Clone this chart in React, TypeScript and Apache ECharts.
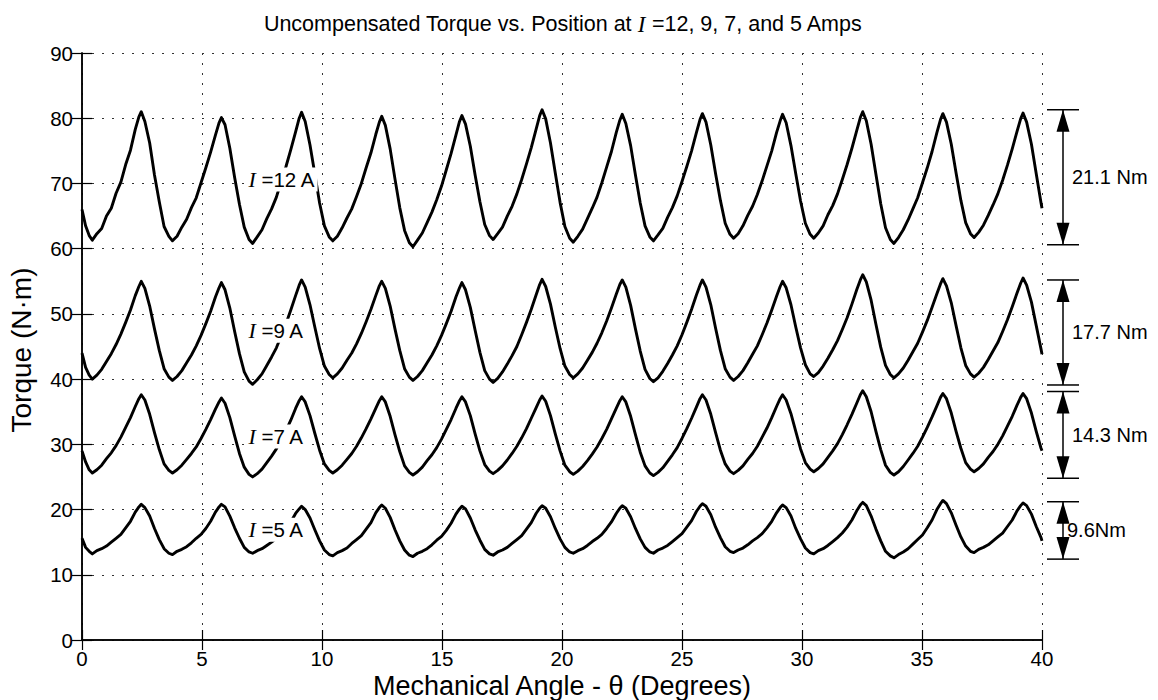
import React, { useEffect, useRef } from "react";
import * as echarts from "echarts";

// Mechanical angle samples (degrees)
const ANGLES = [
  0, 0.15, 0.3,
  0.43, 0.62, 0.82, 1.02, 1.22, 1.42, 1.62, 1.82, 2.02, 2.22, 2.37, 2.47, 2.62, 2.82, 3.02, 3.22, 3.42, 3.62,
  3.77, 3.96, 4.16, 4.36, 4.56, 4.76, 4.96, 5.16, 5.36, 5.56, 5.71, 5.81, 5.96, 6.16, 6.36, 6.56, 6.76, 6.96,
  7.11, 7.3, 7.5, 7.7, 7.9, 8.1, 8.3, 8.5, 8.7, 8.9, 9.05, 9.15, 9.3, 9.5, 9.7, 9.9, 10.1, 10.3,
  10.45, 10.64, 10.84, 11.04, 11.24, 11.44, 11.64, 11.84, 12.04, 12.24, 12.39, 12.49, 12.64, 12.84, 13.04, 13.24, 13.44, 13.64,
  13.79, 13.98, 14.18, 14.38, 14.58, 14.78, 14.98, 15.18, 15.38, 15.58, 15.73, 15.83, 15.98, 16.18, 16.38, 16.58, 16.78, 16.98,
  17.13, 17.32, 17.52, 17.72, 17.92, 18.12, 18.32, 18.52, 18.72, 18.92, 19.07, 19.17, 19.32, 19.52, 19.72, 19.92, 20.12, 20.32,
  20.47, 20.66, 20.86, 21.06, 21.26, 21.46, 21.66, 21.86, 22.06, 22.26, 22.41, 22.51, 22.66, 22.86, 23.06, 23.26, 23.46, 23.66,
  23.81, 24.0, 24.2, 24.4, 24.6, 24.8, 25.0, 25.2, 25.4, 25.6, 25.75, 25.85, 26.0, 26.2, 26.4, 26.6, 26.8, 27.0,
  27.15, 27.34, 27.54, 27.74, 27.94, 28.14, 28.34, 28.54, 28.74, 28.94, 29.09, 29.19, 29.34, 29.54, 29.74, 29.94, 30.14, 30.34,
  30.49, 30.68, 30.88, 31.08, 31.28, 31.48, 31.68, 31.88, 32.08, 32.28, 32.43, 32.53, 32.68, 32.88, 33.08, 33.28, 33.48, 33.68,
  33.83, 34.02, 34.22, 34.42, 34.62, 34.82, 35.02, 35.22, 35.42, 35.62, 35.77, 35.87, 36.02, 36.22, 36.42, 36.62, 36.82, 37.02,
  37.17, 37.36, 37.56, 37.76, 37.96, 38.16, 38.36, 38.56, 38.76, 38.96, 39.11, 39.21, 39.36, 39.56, 39.76, 39.96, 40.0,
];

// Torque (N·m) at I = 12 A
const TORQUE_12A = [
  66.0, 63.5, 62.0,
  61.3, 62.3, 63.1, 65.0, 66.2, 68.5, 70.2, 72.9, 75.1, 78.3, 80.2, 81.0, 79.5, 76.2, 71.3, 67.2, 63.4, 61.9,
  61.2, 61.9, 63.3, 64.5, 66.3, 67.8, 70.1, 72.4, 74.8, 77.4, 79.3, 80.1, 79.0, 75.4, 70.9, 66.8, 63.3, 61.4,
  60.8, 61.8, 62.9, 64.6, 66.1, 67.9, 70.3, 72.6, 75.2, 77.9, 80.0, 80.9, 79.5, 75.9, 71.5, 67.0, 63.5, 61.8,
  61.2, 61.9, 63.2, 64.7, 66.1, 68.0, 70.0, 72.4, 74.7, 77.5, 79.4, 80.3, 78.9, 75.3, 70.7, 66.3, 62.8, 60.9,
  60.3, 61.3, 62.4, 64.0, 65.6, 67.5, 69.6, 72.1, 74.6, 77.4, 79.5, 80.4, 79.1, 75.7, 71.3, 67.2, 63.7, 62.0,
  61.4, 62.3, 63.3, 65.0, 66.5, 68.4, 70.6, 73.0, 75.5, 78.3, 80.4, 81.3, 79.9, 76.2, 71.6, 67.1, 63.4, 61.6,
  61.0, 61.9, 63.0, 64.6, 66.2, 67.9, 70.1, 72.5, 74.9, 77.8, 79.7, 80.6, 79.2, 75.8, 71.3, 67.0, 63.5, 61.8,
  61.2, 62.1, 63.1, 64.8, 66.3, 68.1, 70.3, 72.6, 75.0, 77.8, 79.8, 80.7, 79.4, 75.9, 71.5, 67.4, 63.9, 62.2,
  61.6, 62.3, 63.5, 65.1, 66.5, 68.3, 70.4, 72.7, 75.0, 77.8, 79.6, 80.6, 79.3, 75.8, 71.5, 67.3, 63.9, 62.2,
  61.6, 62.4, 63.5, 65.2, 66.6, 68.4, 70.6, 72.9, 75.4, 78.1, 80.1, 81.0, 79.6, 76.0, 71.4, 66.9, 63.2, 61.4,
  60.8, 61.7, 62.9, 64.4, 66.1, 67.8, 70.1, 72.4, 74.9, 77.8, 79.8, 80.7, 79.4, 76.0, 71.6, 67.4, 64.0, 62.3,
  61.7, 62.5, 63.6, 65.1, 66.7, 68.4, 70.5, 72.8, 75.3, 78.0, 79.9, 80.8, 79.4, 76.0, 71.5, 67.0, 66.2,
];

// Torque (N·m) at I = 9 A
const TORQUE_9A = [
  44.0, 41.8, 40.6,
  40.0, 40.6, 41.5, 42.7, 43.9, 45.3, 46.9, 48.7, 50.6, 52.8, 54.2, 55.0, 53.9, 51.2, 47.7, 44.4, 41.6, 40.3,
  39.8, 40.4, 41.3, 42.5, 43.7, 45.1, 46.7, 48.5, 50.4, 52.6, 54.0, 54.8, 53.7, 50.9, 47.3, 43.9, 41.1, 39.7,
  39.2, 39.9, 40.8, 42.1, 43.4, 44.8, 46.6, 48.5, 50.6, 52.8, 54.4, 55.2, 54.1, 51.4, 48.0, 44.7, 42.0, 40.7,
  40.2, 40.8, 41.7, 42.9, 44.0, 45.4, 47.0, 48.8, 50.7, 52.8, 54.3, 55.0, 53.9, 51.2, 47.7, 44.4, 41.6, 40.3,
  39.8, 40.4, 41.3, 42.5, 43.7, 45.1, 46.7, 48.5, 50.4, 52.6, 54.0, 54.8, 53.7, 51.0, 47.5, 44.1, 41.3, 40.0,
  39.5, 40.1, 41.1, 42.3, 43.6, 45.0, 46.8, 48.7, 50.7, 52.9, 54.5, 55.3, 54.2, 51.5, 48.0, 44.7, 42.0, 40.7,
  40.2, 40.8, 41.7, 42.9, 44.1, 45.5, 47.1, 48.9, 50.9, 53.0, 54.5, 55.2, 54.1, 51.3, 47.7, 44.3, 41.5, 40.1,
  39.6, 40.2, 41.2, 42.4, 43.7, 45.1, 46.8, 48.7, 50.7, 52.9, 54.4, 55.2, 54.1, 51.4, 47.8, 44.4, 41.6, 40.3,
  39.8, 40.4, 41.3, 42.5, 43.8, 45.1, 46.8, 48.6, 50.6, 52.7, 54.2, 55.0, 54.0, 51.4, 48.0, 44.8, 42.2, 40.8,
  40.4, 41.0, 42.0, 43.2, 44.5, 45.9, 47.6, 49.4, 51.5, 53.7, 55.2, 56.0, 54.9, 52.1, 48.4, 44.9, 42.1, 40.7,
  40.2, 40.8, 41.7, 42.9, 44.2, 45.5, 47.2, 49.0, 51.0, 53.1, 54.6, 55.4, 54.3, 51.7, 48.2, 44.8, 42.1, 40.8,
  40.3, 40.9, 41.8, 43.0, 44.3, 45.6, 47.3, 49.1, 51.1, 53.2, 54.7, 55.5, 54.4, 51.8, 48.2, 44.6, 43.8,
];

// Torque (N·m) at I = 7 A
const TORQUE_7A = [
  29.0, 27.3, 26.1,
  25.6, 26.1, 26.8, 27.8, 28.7, 29.8, 31.1, 32.6, 34.1, 35.8, 37.0, 37.6, 36.8, 34.6, 31.8, 29.2, 27.0, 26.0,
  25.6, 26.1, 26.8, 27.7, 28.6, 29.6, 30.9, 32.3, 33.8, 35.4, 36.5, 37.1, 36.3, 34.1, 31.3, 28.6, 26.5, 25.4,
  25.0, 25.5, 26.2, 27.2, 28.2, 29.3, 30.7, 32.1, 33.7, 35.5, 36.7, 37.3, 36.5, 34.4, 31.7, 29.1, 27.0, 26.0,
  25.6, 26.1, 26.8, 27.7, 28.6, 29.7, 31.0, 32.4, 33.9, 35.5, 36.7, 37.3, 36.5, 34.3, 31.5, 28.9, 26.7, 25.7,
  25.3, 25.8, 26.5, 27.5, 28.4, 29.5, 30.8, 32.3, 33.8, 35.5, 36.7, 37.3, 36.5, 34.4, 31.6, 29.0, 26.9, 25.9,
  25.5, 26.0, 26.7, 27.6, 28.6, 29.7, 31.0, 32.4, 34.0, 35.6, 36.8, 37.4, 36.6, 34.4, 31.6, 29.0, 26.8, 25.8,
  25.4, 25.9, 26.6, 27.5, 28.5, 29.6, 30.9, 32.3, 33.9, 35.5, 36.7, 37.3, 36.5, 34.3, 31.5, 28.8, 26.7, 25.6,
  25.2, 25.7, 26.4, 27.4, 28.4, 29.5, 30.9, 32.4, 34.0, 35.7, 37.0, 37.6, 36.8, 34.6, 31.8, 29.1, 27.0, 25.9,
  25.5, 26.0, 26.7, 27.7, 28.6, 29.7, 31.1, 32.5, 34.1, 35.8, 37.0, 37.6, 36.8, 34.7, 32.0, 29.3, 27.2, 26.2,
  25.8, 26.3, 27.0, 28.0, 29.0, 30.1, 31.5, 33.0, 34.6, 36.3, 37.6, 38.2, 37.3, 35.0, 32.0, 29.2, 26.8, 25.7,
  25.3, 25.8, 26.6, 27.6, 28.6, 29.7, 31.1, 32.6, 34.2, 35.9, 37.2, 37.8, 37.0, 34.8, 32.0, 29.4, 27.2, 26.2,
  25.8, 26.3, 27.0, 28.0, 28.9, 30.0, 31.3, 32.8, 34.3, 36.0, 37.2, 37.8, 37.0, 34.8, 32.0, 29.4, 29.0,
];

// Torque (N·m) at I = 5 A
const TORQUE_5A = [
  15.6, 14.2, 13.6,
  13.2, 13.7, 14.0, 14.4, 15.0, 15.6, 16.2, 17.2, 18.2, 19.6, 20.4, 20.8, 20.3, 19.0, 17.1, 15.4, 14.0, 13.3,
  13.1, 13.6, 13.9, 14.3, 14.9, 15.6, 16.2, 17.1, 18.2, 19.6, 20.4, 20.8, 20.4, 19.0, 17.2, 15.6, 14.2, 13.5,
  13.3, 13.7, 14.0, 14.5, 15.0, 15.6, 16.2, 17.0, 18.1, 19.4, 20.1, 20.5, 20.0, 18.7, 16.9, 15.2, 13.8, 13.1,
  12.9, 13.4, 13.7, 14.1, 14.8, 15.4, 16.0, 17.0, 18.0, 19.5, 20.3, 20.7, 20.2, 18.8, 16.9, 15.2, 13.8, 13.0,
  12.8, 13.3, 13.6, 14.0, 14.6, 15.3, 15.9, 16.8, 17.9, 19.3, 20.1, 20.5, 20.1, 18.7, 16.9, 15.3, 13.9, 13.2,
  13.0, 13.5, 13.8, 14.2, 14.8, 15.4, 16.0, 17.0, 18.0, 19.4, 20.2, 20.6, 20.2, 18.9, 17.1, 15.5, 14.2, 13.5,
  13.3, 13.7, 14.0, 14.5, 15.1, 15.6, 16.2, 17.1, 18.1, 19.4, 20.2, 20.6, 20.2, 18.9, 17.1, 15.5, 14.2, 13.5,
  13.3, 13.8, 14.1, 14.5, 15.1, 15.7, 16.3, 17.3, 18.3, 19.7, 20.5, 20.9, 20.5, 19.2, 17.3, 15.7, 14.3, 13.6,
  13.4, 13.8, 14.1, 14.6, 15.2, 15.7, 16.3, 17.2, 18.2, 19.5, 20.3, 20.7, 20.3, 19.0, 17.1, 15.5, 14.1, 13.4,
  13.2, 13.7, 14.0, 14.5, 15.1, 15.7, 16.4, 17.3, 18.4, 19.8, 20.7, 21.1, 20.6, 19.0, 17.0, 15.2, 13.6, 12.9,
  12.6, 13.1, 13.5, 14.0, 14.7, 15.4, 16.1, 17.2, 18.4, 20.0, 20.9, 21.4, 20.9, 19.5, 17.6, 15.8, 14.4, 13.6,
  13.4, 13.9, 14.2, 14.6, 15.2, 15.8, 16.4, 17.4, 18.4, 19.8, 20.6, 21.0, 20.6, 19.3, 17.4, 15.7, 15.2,
];

// Curve labels: current, anchor angle and torque
const LABEL_AMPS = ["12", "9", "7", "5"];
const LABEL_ANGLE = [6.85, 6.85, 6.85, 6.85];
const LABEL_TORQUE = [70.6, 47.4, 31.2, 16.9];

// Ripple annotations (peak-to-peak brackets)
const RIPPLE_TOP = [81.3, 55.2, 38.1, 21.2];
const RIPPLE_BOTTOM = [60.6, 39.1, 24.8, 12.4];
const RIPPLE_TEXT = ["21.1 Nm", "17.7 Nm", "14.3 Nm", "9.6Nm"];

const SANS = "'Liberation Sans', Arial, Helvetica, sans-serif";
const SERIF = "'Liberation Serif', 'Times New Roman', serif";

export default function App() {
  const ref = useRef<HTMLDivElement>(null);
  useEffect(() => {
    const chart = echarts.init(ref.current!, null, { renderer: "svg" });
    const mk = (vals: number[]) => ANGLES.map((a, i) => [a, vals[i]]);
    const lineSeries = (name: string, vals: number[]) => ({
      type: "line",
      name,
      data: mk(vals),
      showSymbol: false,
      symbol: "none",
      silent: true,
      lineStyle: { color: "#000", width: 2.9, join: "round" },
      z: 3,
    });
    const axisLine = { show: true, lineStyle: { color: "#000", width: 1.5 } };
    const tick = { show: true, inside: true, length: 10, lineStyle: { color: "#000", width: 1.2 } };
    const grid = { show: true, lineStyle: { color: "#333", width: 1, type: [2, 8] as any } };
    chart.setOption({
      animation: false,
      backgroundColor: "#fff",
      grid: { left: 82, right: 116, top: 53, bottom: 60, containLabel: false },
      xAxis: [
        {
          type: "value",
          min: 0,
          max: 40,
          interval: 5,
          position: "bottom",
          axisLine,
          axisTick: tick,
          axisLabel: { fontSize: 20.5, color: "#000", fontFamily: SANS, margin: 7, lineHeight: 22 },
          splitLine: grid,
        },
        {
          type: "value",
          min: 0,
          max: 40,
          interval: 5,
          position: "top",
          axisLine,
          axisTick: tick,
          axisLabel: { show: false },
          splitLine: { show: false },
        },
      ],
      yAxis: [
        {
          type: "value",
          min: 0,
          max: 90,
          interval: 10,
          position: "left",
          axisLine,
          axisTick: tick,
          axisLabel: { fontSize: 20.5, color: "#000", fontFamily: SANS, margin: 9 },
          splitLine: grid,
        },
        {
          type: "value",
          min: 0,
          max: 90,
          interval: 10,
          position: "right",
          axisLine,
          axisTick: tick,
          axisLabel: { show: false },
          splitLine: { show: false },
        },
      ],
      series: [
        lineSeries("12 A", TORQUE_12A),
        lineSeries("9 A", TORQUE_9A),
        lineSeries("7 A", TORQUE_7A),
        lineSeries("5 A", TORQUE_5A),
      ],
    });

    const px = (x: number, y: number) => chart.convertToPixel({ gridIndex: 0 }, [x, y]) as number[];
    const graphics: any[] = [];

    // Title
    graphics.push({
      type: "text",
      x: 563,
      y: 24,
      z: 10,
      style: {
        text: "{a|Uncompensated Torque vs. Position at }{i|I}{a| =12, 9, 7, and 5 Amps}",
        align: "center",
        verticalAlign: "middle",
        rich: {
          a: { fontSize: 21.5, fontFamily: SANS, fill: "#000" },
          i: { fontSize: 23, fontFamily: SERIF, fontStyle: "italic", fill: "#000" },
        },
      },
    });
    // Axis titles
    graphics.push({
      type: "text",
      x: 562,
      y: 686,
      z: 10,
      style: {
        text: "Mechanical Angle - θ (Degrees)",
        fontSize: 27,
        lineHeight: 27,
        fontFamily: SANS,
        fill: "#000",
        align: "center",
        verticalAlign: "middle",
      },
    });
    graphics.push({
      type: "text",
      x: 21,
      y: 350,
      rotation: Math.PI / 2,
      z: 10,
      style: {
        text: "Torque (N·m)",
        fontSize: 28,
        fontFamily: SANS,
        fill: "#000",
        align: "center",
        verticalAlign: "middle",
      },
    });

    // Curve labels with white background covering the trace
    LABEL_AMPS.forEach((amps, k) => {
      const p = px(LABEL_ANGLE[k], LABEL_TORQUE[k]);
      graphics.push({
        type: "text",
        x: p[0],
        y: p[1],
        z: 20,
        style: {
          text: "{i|I}{a| =" + amps + " A}",
          align: "left",
          verticalAlign: "middle",
          backgroundColor: "#fff",
          padding: [1, 2, 1, 2],
          rich: {
            a: { fontSize: 20.5, fontFamily: SANS, fill: "#000" },
            i: { fontSize: 22, fontFamily: SERIF, fontStyle: "italic", fill: "#000" },
          },
        },
      });
    });

    // Ripple brackets
    const xEdge = px(40, 0)[0];
    const xc = xEdge + 21;
    const x0 = xEdge + 5;
    const x1 = xEdge + 37;
    const ah = 22;
    const aw = 6.5;
    RIPPLE_TEXT.forEach((txt, k) => {
      const yt = px(40, RIPPLE_TOP[k])[1];
      const yb = px(40, RIPPLE_BOTTOM[k])[1];
      const ls = { stroke: "#000", lineWidth: 1.5 };
      graphics.push({ type: "line", z: 10, shape: { x1: x0, y1: yt, x2: x1, y2: yt }, style: ls });
      graphics.push({ type: "line", z: 10, shape: { x1: x0, y1: yb, x2: x1, y2: yb }, style: ls });
      graphics.push({ type: "line", z: 10, shape: { x1: xc, y1: yt, x2: xc, y2: yb }, style: ls });
      graphics.push({
        type: "polygon",
        z: 10,
        shape: { points: [[xc, yt], [xc - aw, yt + ah], [xc + aw, yt + ah]] },
        style: { fill: "#000" },
      });
      graphics.push({
        type: "polygon",
        z: 10,
        shape: { points: [[xc, yb], [xc - aw, yb - ah], [xc + aw, yb - ah]] },
        style: { fill: "#000" },
      });
      graphics.push({
        type: "text",
        x: xc + (k === 3 ? 4 : 9),
        y: (yt + yb) / 2,
        z: 11,
        style: {
          text: txt,
          fontSize: 20,
          fontFamily: SANS,
          fill: "#000",
          align: "left",
          verticalAlign: "middle",
        },
      });
    });

    chart.setOption({ graphic: graphics });
    return () => chart.dispose();
  }, []);
  return <div ref={ref} style={{ position: "absolute", left: 0, top: 0, width: 1158, height: 700 }} />;
}
